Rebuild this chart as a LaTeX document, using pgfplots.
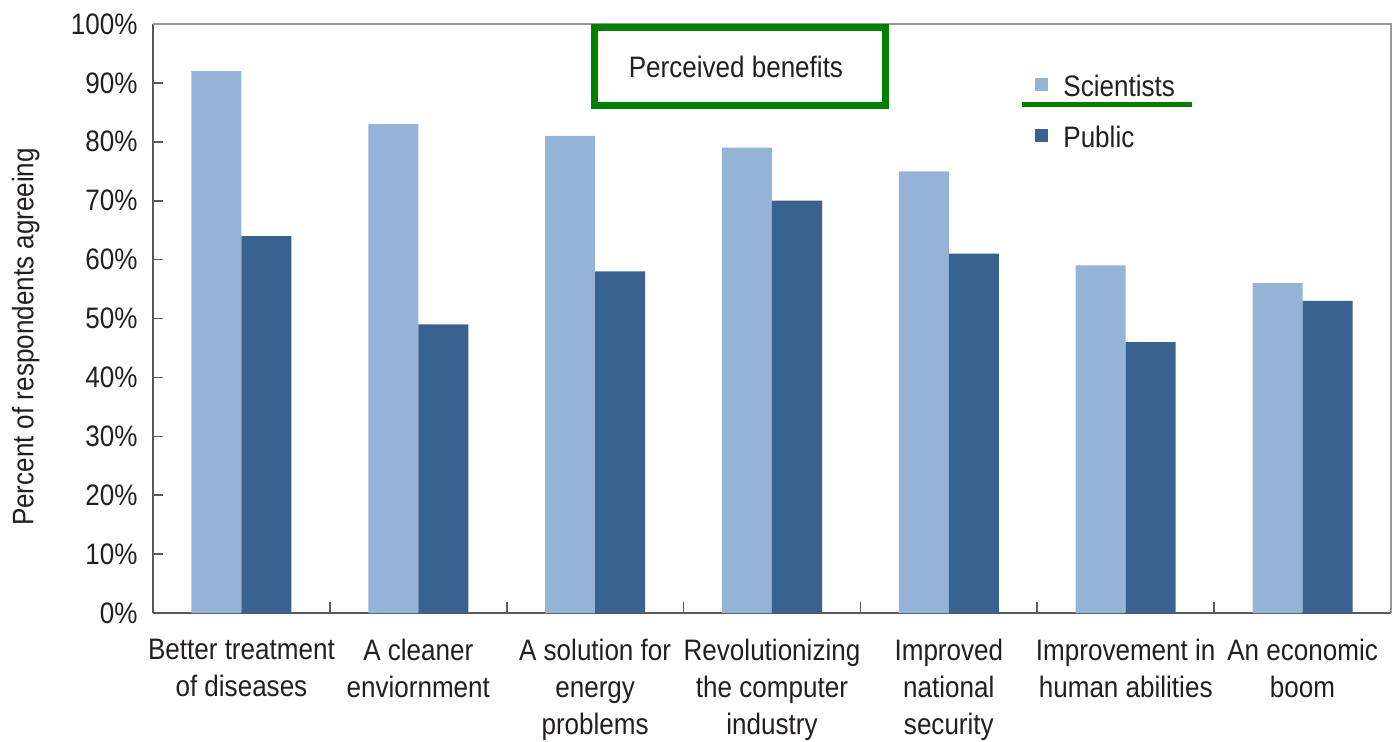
\documentclass[border=0pt]{standalone}
\usepackage{pgfplots}
\pgfplotsset{compat=1.18}
\usepackage{fontspec}
\setmainfont[FakeStretch=0.88]{Liberation Sans}
\usetikzlibrary{calc}

\definecolor{sciblue}{HTML}{95B3D7}
\definecolor{pubblue}{HTML}{3A6291}
\definecolor{boxgreen}{HTML}{008000}
\definecolor{axisgray}{HTML}{595959}
\definecolor{txt}{HTML}{231F20}

\pgfplotstableread{
idx sci pub
0   92  64
1   83  49
2   81  58
3   79  70
4   75  61
5   59  46
6   56  53
}\benefits

\begin{document}
\fontsize{14.8}{18.5}\selectfont
\color{txt}
\begin{tikzpicture}
\begin{axis}[
  name=ax,
  scale only axis,
  width=619pt, height=294.5pt,
  ybar=0pt, bar width=25pt,
  xmin=-0.5, xmax=6.5,
  ymin=0, ymax=100,
  axis x line*=bottom, axis y line*=left,
  axis line style={axisgray, line width=0.8pt},
  xtick={0,...,6},
  xticklabels={Better treatment\\of diseases, A cleaner\\enviornment, A solution for\\energy\\problems, Revolutionizing\\the computer\\industry, Improved\\national\\security, Improvement in\\human abilities, An economic\\boom},
  xticklabel style={align=center, inner sep=0pt, yshift=-13pt},
  major x tick style={draw=none},
  minor xtick={0.5,1.5,...,5.5},
  minor x tick style={axisgray, line width=0.8pt},
  minor tick length=5.5pt,
  ytick={0,10,...,100},
  yticklabels={0\%,10\%,20\%,30\%,40\%,50\%,60\%,70\%,80\%,90\%,100\%},
  ytick style={axisgray, line width=0.8pt},
  major tick length=5pt,
  yticklabel style={inner sep=0pt, xshift=-7.5pt},
  tick align=inside,
  ylabel={Percent of respondents agreeing},
  ylabel style={at={(axis description cs:-0.0913,0.4686)}, anchor=south, inner sep=0pt},
  legend style={at={(axis cs:4.487,84.9)}, anchor=west, draw=none, fill=none,
    inner sep=0pt, row sep=12pt, column sep=0pt,
    nodes={inner sep=0pt, anchor=west}},
  legend cell align=left,
  legend image code/.code={%
    \path[draw=none, fill=none] (0pt,-1.5pt) rectangle (14pt,7pt);
    \fill[#1, draw=none] (0pt,-1.5pt) rectangle (6.5pt,5pt);},
  clip=false,
]
\addplot[fill=sciblue, draw=none] table[x=idx, y=sci] {\benefits};
\addplot[fill=pubblue, draw=none] table[x=idx, y=pub] {\benefits};
\legend{Scientists, Public}

% frame on the top and right
\draw[gray!80, line width=0.8pt] (rel axis cs:0,1) -- (rel axis cs:1,1) -- (rel axis cs:1,0);

% highlighted caption box
\draw[boxgreen, line width=3.5pt] (axis cs:1.996,99.4) rectangle (axis cs:3.642,86.2);
\node at (axis cs:2.796,92.7) {Perceived benefits};

% underline beneath the first legend entry
\draw[boxgreen, line width=2.5pt] (axis cs:4.413,86.4) -- (axis cs:5.375,86.4);
\end{axis}
\pgfresetboundingbox
\path ($(ax.south west)+(-76.5pt,-64pt)$) rectangle ($(ax.south west)+(619.5pt,306.5pt)$);
\end{tikzpicture}
\end{document}
